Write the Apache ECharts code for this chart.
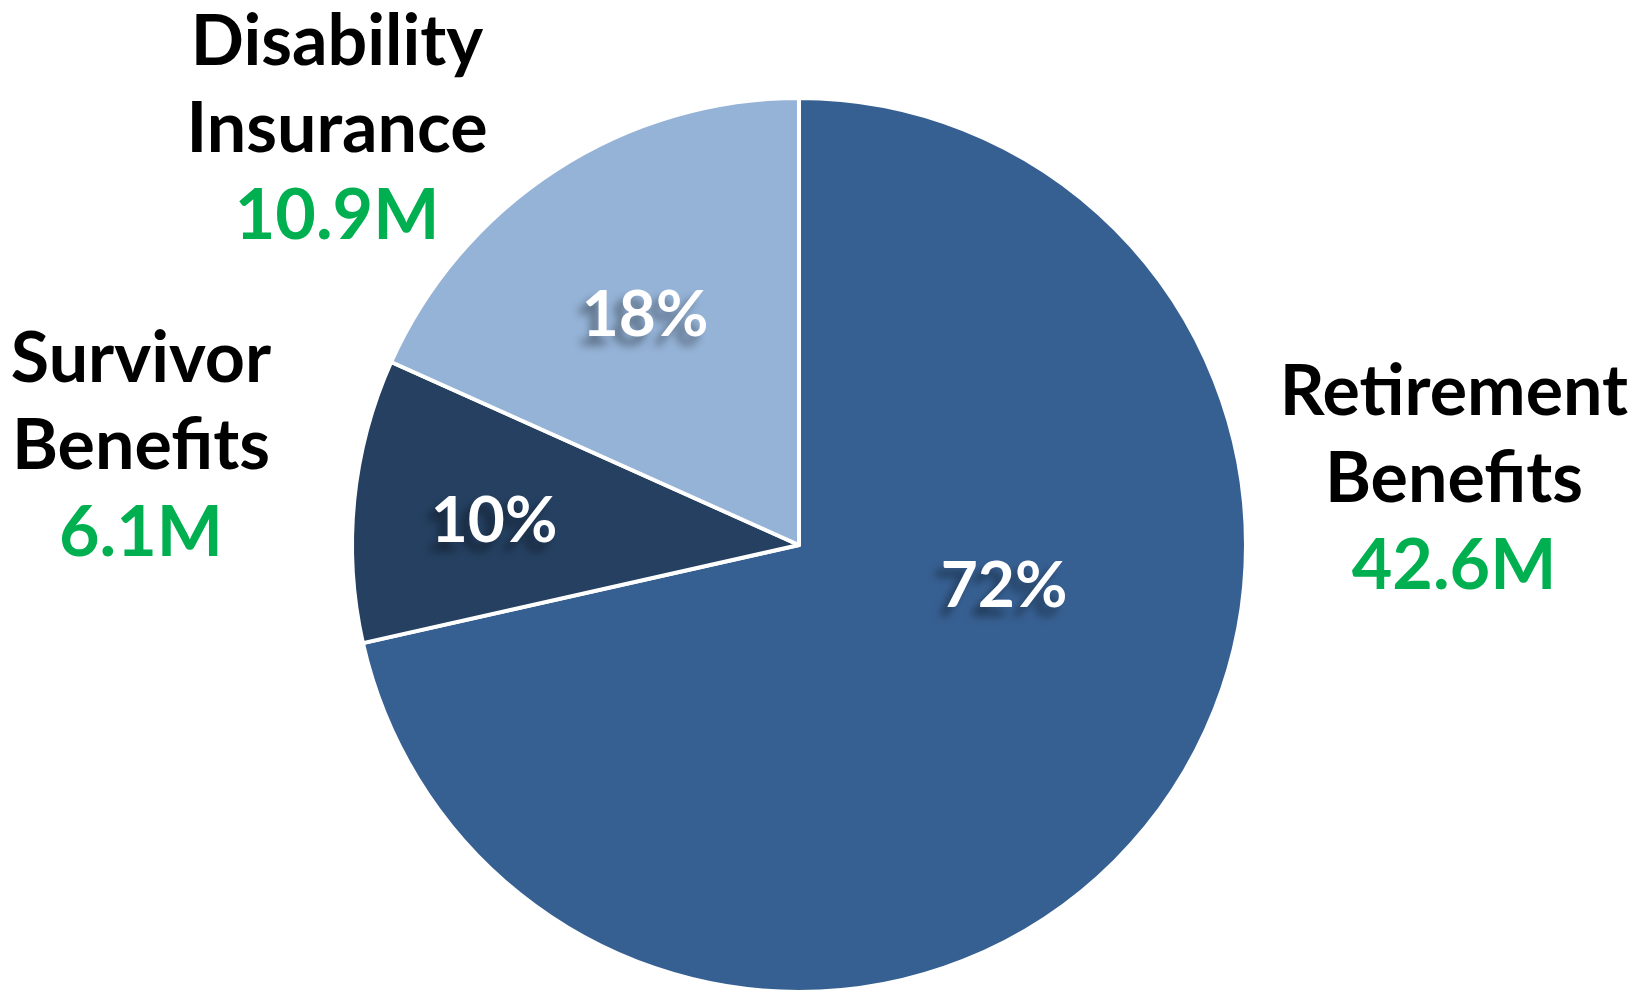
<!DOCTYPE html>
<html>
<head>
<meta charset="utf-8">
<script src="https://cdn.jsdelivr.net/npm/echarts@6/dist/echarts.min.js"></script>
<style>
    html, body { margin: 0; padding: 0; background: #fff; }
    #pie { width: 1635px; height: 991px; }
</style>
</head>
<body>
<div id="pie"></div>
<script>
    // beneficiaries, millions
    var programs = ['Retirement Benefits', 'Survivor Benefits', 'Disability Insurance'];
    var beneficiaries = [42.6, 6.1, 10.9];
    var sliceColors = ['#376092', '#254061', '#95B3D7'];

    // where the labels sit (px), same order as programs
    var pctSpots = [[1004, 586], [494, 521], [645, 315]];
    var nameSpots = [[1454, 479], [141, 446], [337, 129]];

    var font = 'Lato, "Open Sans", sans-serif';

    var pieData = programs.map(function (p, i) {
        return { name: p, value: beneficiaries[i], itemStyle: { color: sliceColors[i] } };
    });

    var chart = echarts.init(document.getElementById('pie'));
    var option = {
        animation: false,
        series: [
            {
                // slices + percent labels
                type: 'pie',
                center: [799, 545],
                radius: 447,
                startAngle: 90,
                clockwise: true,
                percentPrecision: 0,
                avoidLabelOverlap: false,
                silent: true,
                itemStyle: { borderColor: '#fff', borderWidth: 4 },
                label: {
                    show: true,
                    position: 'inside',
                    formatter: '{d}%',
                    color: '#fff',
                    fontFamily: font,
                    fontWeight: 'bold',
                    fontSize: 64,
                    textShadowColor: 'rgba(0,0,0,0.4)',
                    textShadowBlur: 8,
                    textShadowOffsetX: -8,
                    textShadowOffsetY: 9
                },
                labelLine: { show: false },
                labelLayout: function (p) {
                    var s = pctSpots[p.dataIndex];
                    return { x: s[0], y: s[1], align: 'center', verticalAlign: 'middle' };
                },
                data: pieData
            },
            {
                // names + values outside the pie
                type: 'pie',
                center: [799, 545],
                radius: 447,
                startAngle: 90,
                silent: true,
                avoidLabelOverlap: false,
                itemStyle: { color: 'transparent', borderWidth: 0 },
                label: {
                    show: true,
                    position: 'outside',
                    formatter: function (p) {
                        var words = p.name.split(' ').map(function (w) { return '{n|' + w + '}'; });
                        return words.join('\n') + '\n{v|' + p.value.toFixed(1) + 'M}';
                    },
                    rich: {
                        n: { fontFamily: font, fontWeight: 'bold', fontSize: 70, lineHeight: 87, color: '#000', align: 'center' },
                        v: { fontFamily: font, fontWeight: 'bold', fontSize: 70, lineHeight: 87, color: '#00B050', align: 'center' }
                    }
                },
                labelLine: { show: false },
                labelLayout: function (p) {
                    var s = nameSpots[p.dataIndex];
                    return { x: s[0], y: s[1], align: 'center', verticalAlign: 'middle' };
                },
                data: programs.map(function (p, i) {
                    return { name: p, value: beneficiaries[i] };
                })
            }
        ]
    };
    chart.setOption(option);
</script>
</body>
</html>
